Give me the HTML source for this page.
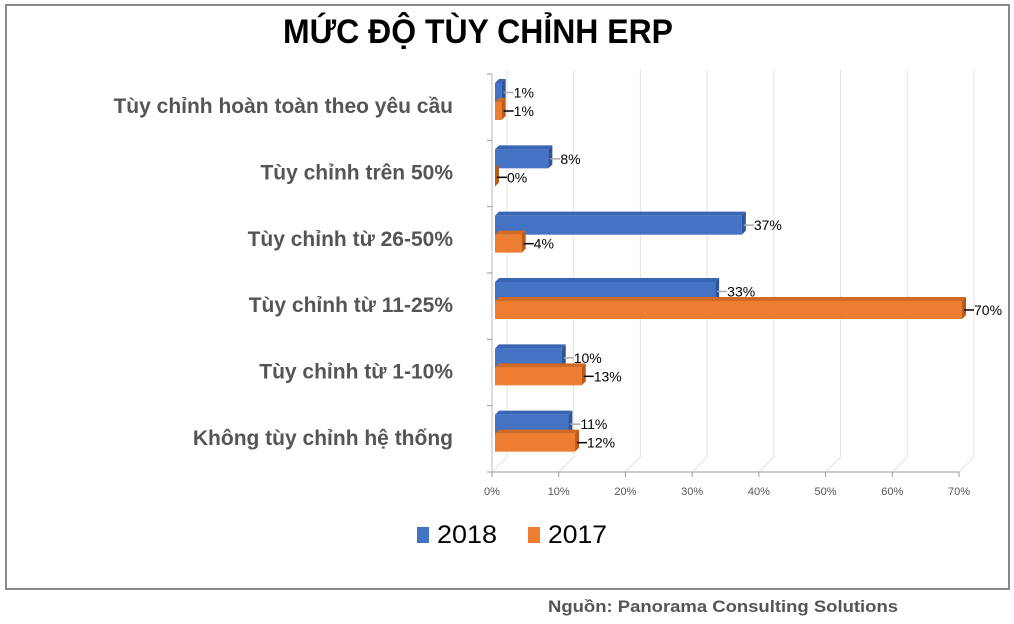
<!DOCTYPE html>
<html><head><meta charset="utf-8"><style>
body{margin:0;background:#fff;}
svg{display:block;font-family:"Liberation Sans",sans-serif;}
</style></head><body>
<svg id="chart" width="1014" height="624" viewBox="0 0 1014 624">
<rect x="6" y="5" width="1003" height="584" fill="#fff" stroke="#888" stroke-width="2"/>
<text x="478" y="43" text-anchor="middle" font-size="34" font-weight="bold" fill="#000" textLength="390" lengthAdjust="spacingAndGlyphs">MỨC ĐỘ TÙY CHỈNH ERP</text>
<g id="grid"></g>
<g id="bars"></g>
<g id="cats"></g>
<g>
<rect x="417" y="527" width="12" height="16" fill="#4472C4"/>
<text x="437" y="543" font-size="25" fill="#000" textLength="60" lengthAdjust="spacingAndGlyphs">2018</text>
<rect x="528" y="527" width="12" height="16" fill="#ED7D31"/>
<text x="548" y="543" font-size="25" fill="#000" textLength="59" lengthAdjust="spacingAndGlyphs">2017</text>
</g>
<text x="898" y="612" text-anchor="end" font-size="17" font-weight="bold" fill="#555" textLength="350" lengthAdjust="spacingAndGlyphs">Nguồn: Panorama Consulting Solutions</text>
</svg>
<script>
const categories = ["Tùy chỉnh hoàn toàn theo yêu cầu","Tùy chỉnh trên 50%","Tùy chỉnh từ 26-50%","Tùy chỉnh từ 11-25%","Tùy chỉnh từ 1-10%","Không tùy chỉnh hệ thống"];
const values2018 = [1,8,37,33,10,11];
const values2017 = [1,0,4,70,13,12];
const tickLabels = ["0%","10%","20%","30%","40%","50%","60%","70%"];
const tickValues = [0,10,20,30,40,50,60,70];

const NS="http://www.w3.org/2000/svg";
const x0=492, pxPer=(959-492)/70, yTop=74, yBot=472, dx=15, dy=-15;
const band=(yBot-yTop)/categories.length;
function xs(v){return x0+v*pxPer;}
function mk(tag,attrs,parent){const e=document.createElementNS(NS,tag);for(const k in attrs)e.setAttribute(k,attrs[k]);parent.appendChild(e);return e;}
const grid=document.getElementById('grid'), bars=document.getElementById('bars'), cats=document.getElementById('cats');

// back wall gridlines
tickValues.forEach((t,i)=>{
  const x=xs(t);
  const g=mk('line',{x1:x+dx,y1:yTop-4,x2:x+dx,y2:yBot+dy,stroke:'#e2e2e2','stroke-width':1},grid);
  
  
  const d=mk('line',{x1:x,y1:yBot,x2:x+dx,y2:yBot+dy,stroke:'#e2e2e2','stroke-width':1},grid);
  
  
  const tk=mk('line',{x1:x,y1:yBot,x2:x,y2:yBot+5,stroke:'#999'},grid);
  
  
  const tl=mk('text',{x:x,y:yBot+23,'text-anchor':'middle','font-size':11,fill:'#555'},grid);
  tl.textContent=tickLabels[i];
  
  
});
const ax=mk('line',{x1:x0-4,y1:yBot,x2:xs(70),y2:yBot,stroke:'#999'},grid);


const ay=mk('line',{x1:x0,y1:yTop,x2:x0,y2:yBot,stroke:'#bbb'},grid);


for(let i=0;i<=categories.length;i++){
  const y=yTop+i*band;
  const t=mk('line',{x1:x0-5,y1:y,x2:x0,y2:y,stroke:'#999'},grid);
  
  
}

function bar(v,y,h,front,side,top,name,label,labelBold){
  const xe=xs(v)+3, xb=x0+3, bx=4, by=-4;
  const g=mk('g',{},bars);
  
  
  mk('polygon',{points:`${xb},${y} ${xb+bx},${y+by} ${xe+bx},${y+by} ${xe},${y}`,fill:top},g);
  mk('rect',{x:xb,y:y,width:Math.max(xe-xb,0.5),height:h,fill:front},g);
  mk('polygon',{points:`${xe},${y} ${xe+bx},${y+by} ${xe+bx},${y+h+by} ${xe},${y+h}`,fill:side},g);
  const ly=y+h/2;
  mk('line',{x1:xe+2,y1:ly,x2:xe+12,y2:ly,stroke:labelBold?'#000':'#aaa','stroke-width':1.5},g);
  const t=mk('text',{x:xe+12,y:ly+5,'font-size':14,fill:'#000'},bars);
  t.textContent=label;
  
  
}
categories.forEach((c,i)=>{
  const gy=yTop+i*band;
  bar(values2018[i],gy+9,19,'#4472C4','#2F5597','#3A65B5','bar-2018-'+i,values2018[i]+'%',false);
  bar(values2017[i],gy+28,18,'#ED7D31','#B85A1A','#D06A25','bar-2017-'+i,values2017[i]+'%',true);
  const t=mk('text',{x:453,y:gy+band/2+6,'text-anchor':'end','font-size':21,'font-weight':'bold',fill:'#555'},cats);
  t.textContent=c;
  
  
});
</script>
</body></html>
